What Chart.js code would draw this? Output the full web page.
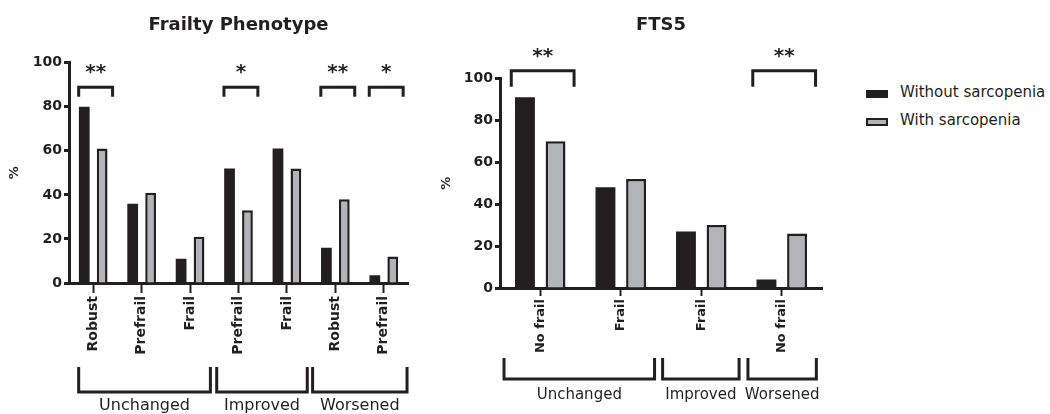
<!DOCTYPE html>
<html>
<head>
<meta charset="utf-8">
<script src="https://cdn.jsdelivr.net/npm/chart.js@4.4.1/dist/chart.umd.min.js"></script>
<style>
  html, body { margin: 0; padding: 0; background: #fff; }
  body { width: 1050px; height: 414px; position: relative; overflow: hidden; }
  canvas { position: absolute; top: 0; }
  #fp { left: 0; }
  #fts { left: 430px; }
  #legend { position: absolute; left: 866px; top: 78px; font: 15px "DejaVu Sans"; color: #231f20; }
  #legend .row { display: flex; align-items: center; height: 28px; }
  #legend .sw { width: 22px; height: 8px; box-sizing: border-box; margin-right: 12px; margin-top: 4px; }
</style>
</head>
<body>
<canvas id="fp" width="430" height="414"></canvas>
<canvas id="fts" width="420" height="414"></canvas>
<div id="legend"></div>
<script>
const INK = '#231f20';
const GREY = '#b2b4b8';
const FONT = '"DejaVu Sans"';

// Frailty Phenotype
const fpLabels = ['Robust', 'Prefrail', 'Frail', 'Prefrail', 'Frail', 'Robust', 'Prefrail'];
const fpWithout = [80, 36, 11, 52, 61, 16, 3.5];
const fpWith = [61, 41, 21, 33, 52, 38, 12];
const fpStars = ['**', '', '', '*', '', '**', '*'];
const fpGroups = ['Unchanged', 'Improved', 'Worsened'];

// FTS5
const ftsLabels = ['No frail', 'Frail', 'Frail', 'No frail'];
const ftsWithout = [91, 48, 27, 4];
const ftsWith = [70, 52, 30, 26];
const ftsStars = ['**', '', '', '**'];
const ftsGroups = ['Unchanged', 'Improved', 'Worsened'];

const seriesNames = ['Without sarcopenia', 'With sarcopenia'];

// brackets over bars and the group brackets under the axis
function makeMarks(stars, groups, o) {
  return {
    id: 'marks',
    afterDraw(chart) {
      const {ctx, scales: {x, y}} = chart;
      const cw = x.getPixelForValue(1) - x.getPixelForValue(0);
      const px = v => x.getPixelForValue(0) + v * cw;
      ctx.save();
      ctx.strokeStyle = INK;
      ctx.fillStyle = INK;
      ctx.lineWidth = 3;
      ctx.textAlign = 'center';
      ctx.textBaseline = 'middle';

      stars.forEach((s, i) => {
        if (!s) return;
        const x0 = px(i + o.sig[0]), x1 = px(i + o.sig[1]);
        const yTop = y.getPixelForValue(o.sigY[0]);
        const yEnd = y.getPixelForValue(o.sigY[1]);
        ctx.beginPath();
        ctx.moveTo(x0, yEnd);
        ctx.lineTo(x0, yTop);
        ctx.lineTo(x1, yTop);
        ctx.lineTo(x1, yEnd);
        ctx.stroke();
        ctx.font = 'bold 20px ' + FONT;
        ctx.fillText(s, (x0 + x1) / 2, o.starY);
      });

      groups.forEach((g, k) => {
        const x0 = px(o.spans[k][0]), x1 = px(o.spans[k][1]);
        ctx.beginPath();
        ctx.moveTo(x0, o.groupY[0]);
        ctx.lineTo(x0, o.groupY[1]);
        ctx.lineTo(x1, o.groupY[1]);
        ctx.lineTo(x1, o.groupY[0]);
        ctx.stroke();
        ctx.font = o.groupFont + 'px ' + FONT;
        ctx.fillText(g, (x0 + x1) / 2, o.groupY[2]);
      });
      ctx.restore();
    }
  };
}

function barChart(id, title, labels, without, withS, stars, groups, o) {
  return new Chart(document.getElementById(id), {
    type: 'bar',
    data: {
      labels: labels,
      datasets: [
        {label: seriesNames[0], data: without, backgroundColor: INK, borderColor: INK, borderWidth: 0},
        {label: seriesNames[1], data: withS, backgroundColor: GREY, borderColor: INK, borderWidth: 2.5}
      ]
    },
    options: {
      responsive: false,
      animation: false,
      layout: {padding: {right: o.padRight}},
      datasets: {bar: {categoryPercentage: o.cat, barPercentage: o.bar}},
      plugins: {
        legend: {display: false},
        tooltip: {enabled: false},
        title: {
          display: true, text: title, fullSize: false, color: INK,
          font: {family: FONT, size: 18, weight: 'bold'},
          padding: {top: 14.2, bottom: o.titleGap}
        }
      },
      scales: {
        x: {
          grid: {offset: false, drawOnChartArea: false, tickLength: o.xTick, tickWidth: 2, color: INK},
          border: {color: INK, width: 3},
          ticks: {
            minRotation: 90, maxRotation: 90, autoSkip: false, padding: 3, color: INK,
            font: {family: FONT, size: o.xFont, weight: 'bold'}
          },
          afterFit: s => { s.height = o.xHeight; }
        },
        y: {
          min: 0, max: 100,
          grid: {drawOnChartArea: false, tickLength: 5, tickWidth: 3, color: INK},
          border: {color: INK, width: 3},
          ticks: {
            stepSize: 20, padding: 2, color: INK,
            font: {family: FONT, size: o.yFont, weight: 'bold'}
          },
          title: {
            display: true, text: '%', color: INK,
            font: {family: FONT, size: 13, weight: 'bold'},
            padding: {top: o.pctPad, bottom: 0}
          },
          afterFit: s => { s.width = o.yWidth; }
        }
      }
    },
    plugins: [makeMarks(stars, groups, o)]
  });
}

barChart('fp', 'Frailty Phenotype', fpLabels, fpWithout, fpWith, fpStars, fpGroups, {
  padRight: 22, cat: 0.74, bar: 0.6, titleGap: 26.9, xTick: 10, xFont: 14, yFont: 14,
  xHeight: 131, yWidth: 69, pctPad: 7,
  sig: [-0.3, 0.4], sigY: [88.8, 84.5], starY: 73,
  spans: [[-0.3, 2.42], [2.55, 4.42], [4.53, 6.48]], groupY: [367, 392, 406], groupFont: 16
});

const fts = barChart('fts', 'FTS5', ftsLabels, ftsWithout, ftsWith, ftsStars, ftsGroups, {
  padRight: 28, cat: 0.76, bar: 0.65, titleGap: 42.5, xTick: 8, xFont: 13, yFont: 14,
  xHeight: 126, yWidth: 70, pctPad: 9,
  sig: [-0.36, 0.42], sigY: [103.6, 96], starY: 57,
  spans: [[-0.45, 1.42], [1.52, 2.47], [2.58, 3.43]], groupY: [358, 379, 395], groupFont: 15
});

// legend built from the chart's own legend items
const legend = document.getElementById('legend');
fts.options.plugins.legend.labels.generateLabels(fts).forEach(item => {
  const row = document.createElement('div');
  row.className = 'row';
  const sw = document.createElement('span');
  sw.className = 'sw';
  sw.style.background = item.fillStyle;
  if (item.lineWidth) sw.style.border = '2px solid ' + item.strokeStyle;
  row.appendChild(sw);
  row.appendChild(document.createTextNode(item.text));
  legend.appendChild(row);
});
</script>
</body>
</html>
